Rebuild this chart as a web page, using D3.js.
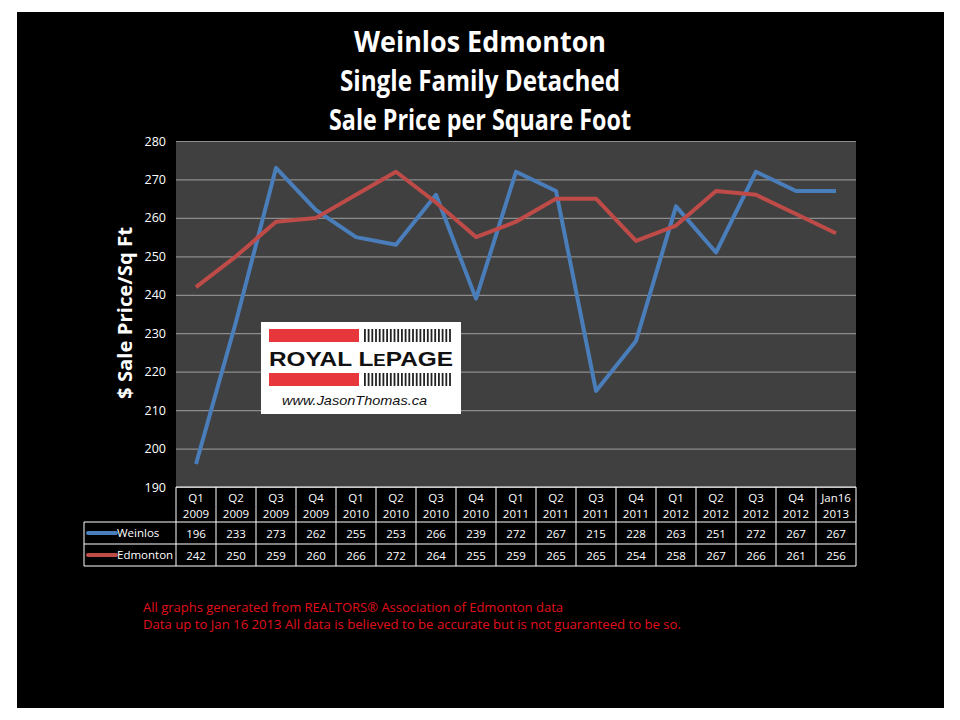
<!DOCTYPE html>
<html><head><meta charset="utf-8">
<script src="https://cdn.jsdelivr.net/npm/d3@7/dist/d3.min.js"></script>
<style>body{margin:0;background:#fff}svg{display:block}</style>
</head><body>
<svg id="c" width="960" height="720"></svg>
<script>
const quarters = ["Q1","Q2","Q3","Q4","Q1","Q2","Q3","Q4","Q1","Q2","Q3","Q4","Q1","Q2","Q3","Q4","Jan16"];
const years = ["2009","2009","2009","2009","2010","2010","2010","2010","2011","2011","2011","2011","2012","2012","2012","2012","2013"];
const weinlos = [196,233,273,262,255,253,266,239,272,267,215,228,263,251,272,267,267];
const edmonton = [242,250,259,260,266,272,264,255,259,265,265,254,258,267,266,261,256];
const yTicks = [190,200,210,220,230,240,250,260,270,280];
const seriesNames = ["Weinlos","Edmonton"];
const seriesColors = ["#4a7ebb","#be4b48"];

const svg = d3.select("#c");
const F = "Open Sans, Calibri, sans-serif";
svg.append("rect").attr("x",17).attr("y",12).attr("width",927).attr("height",696).attr("fill","#000");

const idx = d3.range(quarters.length);
const x = d3.scaleBand(idx,[176,856]);
const y = d3.scaleLinear([190,280],[487,141]);

// titles
["Weinlos Edmonton","Single Family Detached","Sale Price per Square Foot"].forEach((t,i)=>{
  svg.append("text").attr("x",480).attr("y",52+i*39).attr("text-anchor","middle")
    .attr("fill","#fff").attr("font-family",F).attr("font-weight","bold").attr("font-size",28)
    .attr("textLength", [252,280,302][i]).attr("lengthAdjust","spacingAndGlyphs").text(t);
});

// plot area
svg.append("rect").attr("x",176).attr("y",141).attr("width",680).attr("height",346).attr("fill","#404040");
const yAxis = svg.append("g").attr("transform","translate(176,0)")
  .call(d3.axisLeft(y).tickValues(yTicks).tickSize(-680).tickPadding(10));
yAxis.select(".domain").remove();
yAxis.selectAll(".tick line").attr("stroke","#8c8c8c").attr("stroke-width",1.2);
yAxis.selectAll(".tick text").attr("fill","#fff").attr("font-family",F).attr("font-size",12.5);

svg.append("text").attr("transform","translate(132,313) rotate(-90)").attr("text-anchor","middle")
  .attr("fill","#fff").attr("font-family",F).attr("font-weight","bold").attr("font-size",20)
  .attr("textLength",172).attr("lengthAdjust","spacingAndGlyphs")
  .text("$ Sale Price/Sq Ft");

// lines
const line = d3.line().x((d,i)=>x(i)+x.bandwidth()/2).y(d=>y(d));
[weinlos,edmonton].forEach((s,k)=>{
  svg.append("path").datum(s).attr("d",line).attr("fill","none")
    .attr("stroke",seriesColors[k]).attr("stroke-width",4).attr("stroke-linejoin","round");
});

// logo
const lg = svg.append("g");
lg.append("rect").attr("x",261).attr("y",322).attr("width",200).attr("height",92).attr("fill","#fff");
[329,373].forEach(yy=>{
  lg.append("rect").attr("x",269).attr("y",yy).attr("width",90).attr("height",13).attr("fill","#e8363d");
  d3.range(24).forEach(j=>{
    lg.append("rect").attr("x",364+j*3.7).attr("y",yy).attr("width",1.8).attr("height",13).attr("fill","#222");
  });
});
const rl = lg.append("text").attr("x",269).attr("y",366).attr("fill","#111").attr("font-family","Liberation Sans, Arial, sans-serif")
  .attr("font-weight","bold").attr("font-size",21).attr("textLength",184).attr("lengthAdjust","spacingAndGlyphs");
rl.append("tspan").text("ROYAL L");
rl.append("tspan").attr("font-size",16).text("E");
rl.append("tspan").text("PAGE");
lg.append("text").attr("x",282).attr("y",405).attr("fill","#111").attr("font-family","Liberation Sans, Arial, sans-serif")
  .attr("font-style","italic").attr("font-size",13).attr("textLength",145).attr("lengthAdjust","spacingAndGlyphs")
  .text("www.JasonThomas.ca");

// table
const tg = svg.append("g");
const rowY = [487,522,544,566];
const W = "#fff";
tg.append("line").attr("x1",176).attr("x2",856).attr("y1",rowY[0]).attr("y2",rowY[0]).attr("stroke",W);
[1,2,3].forEach(r=>tg.append("line").attr("x1",84).attr("x2",856).attr("y1",rowY[r]).attr("y2",rowY[r]).attr("stroke",W));
tg.append("line").attr("x1",84).attr("x2",84).attr("y1",rowY[1]).attr("y2",rowY[3]).attr("stroke",W);
idx.concat([quarters.length]).forEach(i=>{
  const xx = i<quarters.length ? x(i) : 856;
  tg.append("line").attr("x1",xx).attr("x2",xx).attr("y1",rowY[0]).attr("y2",rowY[3]).attr("stroke",W);
});
idx.forEach(i=>{
  const cx = x(i)+x.bandwidth()/2;
  tg.append("text").attr("x",cx).attr("y",502).attr("text-anchor","middle").attr("fill",W)
    .attr("font-family",F).attr("font-size",11.5).text(quarters[i]);
  tg.append("text").attr("x",cx).attr("y",518).attr("text-anchor","middle").attr("fill",W)
    .attr("font-family",F).attr("font-size",11.5).text(years[i]);
  [weinlos,edmonton].forEach((s,k)=>{
    tg.append("text").attr("x",cx).attr("y",rowY[k+1]+16).attr("text-anchor","middle").attr("fill",W)
      .attr("font-family",F).attr("font-size",11.5).text(s[i]);
  });
});
seriesNames.forEach((n,k)=>{
  const yy = rowY[k+1]+11;
  tg.append("line").attr("x1",88).attr("x2",116).attr("y1",yy).attr("y2",yy)
    .attr("stroke",seriesColors[k]).attr("stroke-width",4).attr("stroke-linecap","round");
  tg.append("text").attr("x",117).attr("y",yy+4).attr("fill",W).attr("font-family",F).attr("font-size",11.5).text(n);
});

// footer
[["All graphs generated from REALTORS® Association of Edmonton data",420],
 ["Data up to  Jan 16 2013  All data is believed to be accurate but is not guaranteed to be so.",538]].forEach((d,i)=>{
  svg.append("text").attr("x",143).attr("y",612+i*17).attr("fill","#e0101a").attr("font-family",F)
    .attr("font-size",12.5).attr("textLength",d[1]).attr("lengthAdjust","spacingAndGlyphs").text(d[0]);
});
</script>
</body></html>
